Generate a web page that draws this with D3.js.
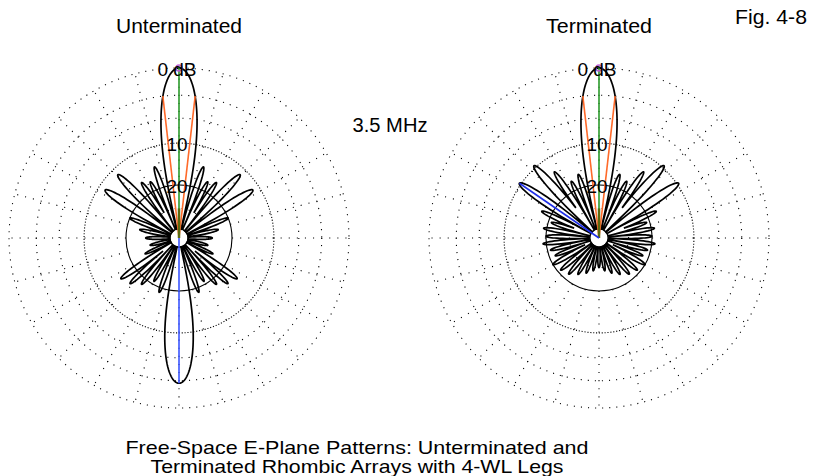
<!DOCTYPE html>
<html><head><meta charset="utf-8">
<script src="https://cdn.jsdelivr.net/npm/d3@7"></script>
<style>body{margin:0;background:#fff} svg{display:block}</style>
</head><body><svg id="c" width="817" height="476"></svg>
<script>
// ---------- data ----------
const ringDb = [0, -3, -6, -10, -20, -30];
const ringLabels = ["0 dB", "10", "20"];
const ringLabelDb = [0, -10, -20];
const spokeStep = 15;
const floorDb = -50;

// lobes of the right half (deg clockwise from top), mirrored to the left
const untermAngles = [0, 19, 27, 34, 44, 57, 68, 78, 90, 104, 115, 125, 133, 141, 150, 160, 180];
const untermPeaks  = [0, -14, -17, -16, -11.3, -11.3, -20, -24.8, -28, -30, -26, -15, -16, -18, -21, -18.5, -2.7];
const untermWidths = [13, 4, 4, 4, 5, 5.5, 4, 4.5, 5, 5, 4, 4.5, 4, 4, 4, 4, 12];

const termAngles = [0, 18, 26, 34, 42, 55.5, 65, 72, 80, 88, 96, 104, 112, 120, 130, 140, 150, 160, 170, 180];
const termPeaks  = [0, -16, -17, -13, -9.6, -9.7, -17, -21, -19, -20, -19, -21, -22, -20, -21, -22, -24, -26, -28, -30];
const termWidths = [13, 4, 4, 4, 5, 5.5, 4, 4, 4, 4, 4, 4, 4, 4.5, 4.5, 4.5, 4.5, 4.5, 4.5, 5];

const charts = [
  {title: "Unterminated", cx: 179, angles: untermAngles, peaks: untermPeaks, widths: untermWidths,
   halfPowerDeg: 6.5, halfPowerDb: -3, blueDeg: 180, blueDb: -2.7, blue: "#3a55ff"},
  {title: "Terminated", cx: 599, angles: termAngles, peaks: termPeaks, widths: termWidths,
   halfPowerDeg: 6.5, halfPowerDb: -3, blueDeg: -55.5, blueDb: -9.7, blue: "#2030e8"}
];
const cy = 238, R = 170;

// ---------- scales ----------
const arrl = d3.scaleLinear().domain([0, 1]).range([0, R]);
const rOf = db => arrl(Math.pow(0.89, -Math.max(db, floorDb) / 2));
const rad = d => d * Math.PI / 180;

const svg = d3.select("#c");
const font = "Arial, 'Liberation Sans', sans-serif";

function gainAt(theta, ch) {
  let g = floorDb;
  ch.angles.forEach((a, i) => {
    [a, -a].forEach(aa => {
      let d = theta - aa;
      d = ((d + 540) % 360) - 180;
      const w = ch.widths[i];
      if (Math.abs(d) < w) {
        const v = ch.peaks[i] + 20 * Math.log10(Math.cos(Math.PI / 2 * d / w));
        if (v > g) g = v;
      }
    });
  });
  return g;
}

function txt(x, y, s, size, len) {
  const t = svg.append("text").attr("x", x).attr("y", y).attr("text-anchor", "middle")
    .attr("font-family", font).attr("font-size", size).attr("fill", "#000").text(s);
  if (len) t.attr("textLength", len).attr("lengthAdjust", "spacingAndGlyphs");
  return t;
}

charts.forEach(ch => {
  const g = svg.append("g").attr("transform", `translate(${ch.cx},${cy})`);
  // rings
  ringDb.forEach(db => {
    g.append("circle").attr("r", rOf(db)).attr("fill", "none")
      .attr("stroke", "#000").attr("stroke-width", 1.1)
      .attr("stroke-dasharray", db === -20 ? null : (db === -10 ? "1.1,1.8" : "1.1,6"));
  });
  // spokes
  d3.range(0, 360, spokeStep).forEach(a => {
    const r0 = rOf(-20), r1 = R;
    g.append("line")
      .attr("x1", r0 * Math.sin(rad(a))).attr("y1", -r0 * Math.cos(rad(a)))
      .attr("x2", r1 * Math.sin(rad(a))).attr("y2", -r1 * Math.cos(rad(a)))
      .attr("stroke", "#000").attr("stroke-width", 1.1).attr("stroke-dasharray", "1.1,7");
  });
  // floor circle
  g.append("circle").attr("r", rOf(floorDb)).attr("fill", "none").attr("stroke", "#000").attr("stroke-width", 1.6);
  // pattern
  const thetas = d3.range(-180, 180, 0.25);
  const line = d3.lineRadial().angle(t => rad(t)).radius(t => rOf(gainAt(t, ch))).curve(d3.curveLinearClosed);
  g.append("path").attr("d", line(thetas)).attr("fill", "none").attr("stroke", "#000").attr("stroke-width", 1.7);
  // half power lines
  [ch.halfPowerDeg, -ch.halfPowerDeg].forEach(a => {
    const r = rOf(ch.halfPowerDb);
    g.append("line").attr("x1", 0).attr("y1", 0)
      .attr("x2", r * Math.sin(rad(a))).attr("y2", -r * Math.cos(rad(a)))
      .attr("stroke", "#ff6a2a").attr("stroke-width", 1.6);
  });
  // max line
  g.append("line").attr("x1", 0).attr("y1", 0).attr("x2", 0).attr("y2", -rOf(0))
    .attr("stroke", "#2a9a2a").attr("stroke-width", 1.6);
  g.append("line").attr("x1", 0).attr("y1", 0).attr("x2", 0).attr("y2", -rOf(-30))
    .attr("stroke", "#5a6a10").attr("stroke-width", 2.5);
  // blue line
  const rb = rOf(ch.blueDb);
  g.append("line").attr("x1", 0).attr("y1", 0)
    .attr("x2", rb * Math.sin(rad(ch.blueDeg))).attr("y2", -rb * Math.cos(rad(ch.blueDeg)))
    .attr("stroke", ch.blue).attr("stroke-width", 1.6);
  // cursor marker
  g.append("circle").attr("cx", 0).attr("cy", -R).attr("r", 3).attr("fill", "none")
    .attr("stroke", "#c060d0").attr("stroke-width", 1.6);
  // title
  txt(ch.cx, 33, ch.title, 20, ch.title.length > 10 ? 126 : 106);
});

// ring labels (drawn over patterns)
charts.forEach(ch => {
  ringLabels.forEach((t, i) => {
    txt(ch.cx - 2, cy - rOf(ringLabelDb[i]) + 8, t, 19);
  });
});

txt(390, 132, "3.5 MHz", 20, 75);
txt(771, 24, "Fig. 4-8", 20, 72);
const foot = ["Free-Space E-Plane Patterns: Unterminated and", "Terminated Rhombic Arrays with 4-WL Legs"];
const footLen = [463, 413];
foot.forEach((t, i) => txt(357, 454 + i * 19, t, 19, footLen[i]));
</script></body></html>
